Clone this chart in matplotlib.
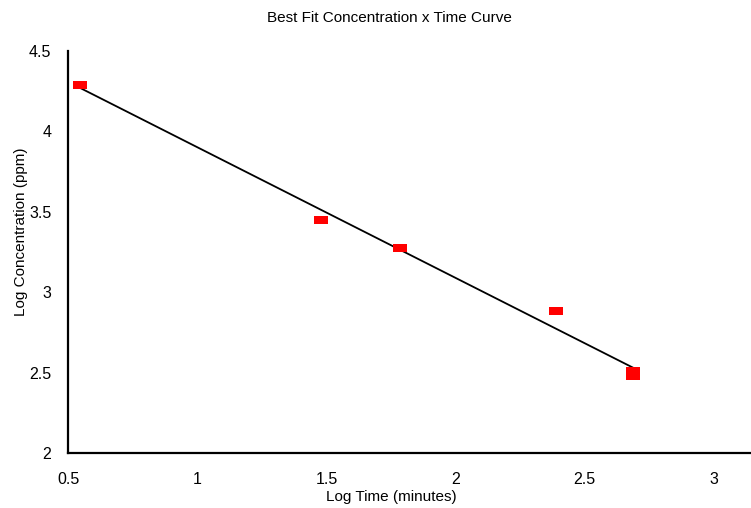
import numpy as np
from matplotlib import pyplot as plt

plt.rcParams["font.family"] = ["Liberation Sans", "DejaVu Sans"]

# log10 of time (minutes) and concentration (ppm)
log_time = [0.546, 1.481, 1.783, 2.387, 2.687, 2.687]
log_conc = [4.289, 3.446, 3.272, 2.886, 2.510, 2.479]

x_ticks = [0.5, 1, 1.5, 2, 2.5, 3]
y_ticks = [2, 2.5, 3, 3.5, 4, 4.5]

TITLE = "Best Fit Concentration x Time Curve"
X_LABEL = "Log Time (minutes)"
Y_LABEL = "Log Concentration (ppm)"

# wide rectangle marker
RECT = [(-1.6, -1), (1.6, -1), (1.6, 1), (-1.6, 1), (-1.6, -1)]


def main() -> None:
    fig = plt.figure(figsize=(7.51, 5.08), dpi=100)
    ax = fig.add_axes([68 / 751, 55 / 508, 683 / 751, 402 / 508])

    slope, intercept = np.polyfit(log_time, log_conc, 1)
    xs = np.array([min(log_time), max(log_time)])
    ax.plot(xs, slope * xs + intercept, color="black", linewidth=1.3, zorder=2)
    ax.plot(log_time, log_conc, linestyle="none", marker=RECT, markersize=9.5,
            color="#ff0000", markeredgewidth=0, zorder=3)

    ax.set_xlim(0.5, 0.5 + 683 / 258.4)
    ax.set_ylim(2, 4.5)
    ax.set_xticks(x_ticks)
    ax.set_xticklabels([f"{t:g}" for t in x_ticks])
    ax.set_yticks(y_ticks)
    ax.set_yticklabels([f"{t:g}" for t in y_ticks])
    ax.tick_params(axis="x", length=0, pad=14, labelsize=11.5)
    ax.tick_params(axis="y", length=0, pad=12, labelsize=11.5)

    for side in ("top", "right"):
        ax.spines[side].set_visible(False)
    for side in ("left", "bottom"):
        ax.spines[side].set_linewidth(1.6)
        ax.spines[side].set_color("black")

    ax.set_xlabel(X_LABEL, fontsize=11)
    ax.set_ylabel(Y_LABEL, fontsize=11)
    ax.xaxis.set_label_coords(0.474, -0.093)
    ax.yaxis.set_label_coords(-0.059, 0.55)
    fig.text(389 / 751, 1 - 18 / 508, TITLE, ha="center", va="center", fontsize=11)

    fig.savefig("out.png", dpi=100)


if __name__ == "__main__":
    main()
